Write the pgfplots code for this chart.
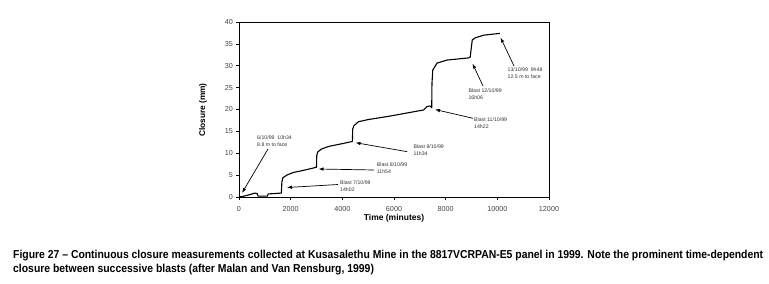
\documentclass[border=0pt]{standalone}
\usepackage{pgfplots}
\pgfplotsset{compat=1.18}
\usetikzlibrary{arrows.meta}
\usepackage{graphicx}
\usepackage{fontspec}
\setmainfont{Liberation Sans}
\definecolor{tickc}{HTML}{444444}
\definecolor{annc}{HTML}{333333}
\definecolor{capc}{HTML}{1A1A1A}
\newsavebox\capbox
\begin{document}
\sbox\capbox{\fontsize{11.5pt}{14pt}\selectfont\bfseries\vbox{\baselineskip=14pt\hbox{Figure 27 – Continuous closure measurements collected at Kusasalethu Mine in the 8817VCRPAN-E5 panel in 1999. Note the prominent time-dependent}\hbox{closure between successive blasts (after Malan and Van Rensburg, 1999)}}}%
\begin{tikzpicture}
\path[use as bounding box] (0pt,0pt) rectangle (769pt,-284pt);
\begin{axis}[
  at={(239pt,-197pt)}, anchor=south west,
  scale only axis, width=310pt, height=175pt,
  xmin=0, xmax=12000, ymin=0, ymax=40,
  xtick={0,2000,...,12000}, ytick={0,5,...,40},
  scaled x ticks=false,
  /pgf/number format/1000 sep={},
  /pgf/number format/assume math mode=true,
  tick align=outside, xtick pos=bottom, ytick pos=left,
  major tick length=3pt,
  tick style={black, line width=0.6pt},
  axis line style={black, line width=0.8pt},
  ticklabel style={font=\fontsize{7.2pt}{8pt}\selectfont, text=tickc},
  xticklabel style={inner sep=0pt, anchor=north, yshift=-6.5pt},
  yticklabel style={inner sep=0pt, anchor=east, xshift=-3pt},
]
\addplot[black, line width=1.1pt, line join=round] coordinates {
(0,0) (200,0.2) (450,0.6) (610,0.9) (700,0.8) (740,0.2) (1100,0.2) (1127,0.7)
(1400,0.8) (1640,0.9) (1660,3.5) (1700,4.4) (1850,5.0) (2100,5.6) (2500,6.1)
(3000,6.8) (3010,9.5) (3050,10.3) (3200,11.0) (3500,11.6) (4000,12.2) (4390,12.7)
(4400,15.5) (4450,16.3) (4620,17.2) (5000,17.7) (5850,18.5) (6500,19.2) (7150,19.9)
(7280,20.7) (7400,20.8) (7460,20.4) (7470,26) (7500,29.0) (7665,30.6) (8050,31.3)
(8900,31.8) (8950,32.0) (8990,34) (9030,35.9) (9150,36.4) (9480,37.0) (10100,37.4)
};
\end{axis}
% axis labels
\node[font=\fontsize{8.5pt}{10pt}\selectfont\bfseries] at (394pt,-218pt) {Time (minutes)};
\node[rotate=90, font=\fontsize{8.3pt}{10pt}\selectfont\bfseries] at (203pt,-110pt) {Closure (mm)};
% annotations
\tikzset{ann/.style={anchor=west, inner sep=0pt, align=left, text=annc, font=\fontsize{5.2pt}{7pt}\selectfont},
         arr/.style={black, line width=0.7pt, -{Latex[length=5pt,width=3.5pt]}}}
\draw[arr] (268pt,-149pt) -- (242pt,-193pt);
\node[ann] at (257pt,-140.8pt) {6/10/99\ \ 10h34\\8.8 m to face};
\draw[arr] (338pt,-184.5pt) -- (287pt,-187.5pt);
\node[ann] at (340pt,-185.7pt) {Blast 7/10/99\\14h02};
\draw[arr] (374pt,-170pt) -- (318.5pt,-169pt);
\node[ann] at (376.7pt,-168pt) {Blast 8/10/99\\11h54};
\draw[arr] (407.3pt,-151.7pt) -- (355.5pt,-142.7pt);
\node[ann] at (413.3pt,-149.9pt) {Blast 9/10/99\\11h34};
\draw[arr] (473pt,-118.3pt) -- (435pt,-109.5pt);
\node[ann] at (474pt,-123pt) {Blast 11/10/99\\14h22};
\draw[arr] (483pt,-86pt) -- (472.5pt,-63.5pt);
\node[ann] at (468.3pt,-94.2pt) {Blast 12/10/99\\16h06};
\draw[arr] (514pt,-66pt) -- (500.5pt,-37.5pt);
\node[ann] at (507.5pt,-73.3pt) {13/10/99\ \ 9h48\\12.5 m to face};
% caption
\node[anchor=base west, inner sep=0pt, text=capc] at (13pt,-272.7pt) {\resizebox{750pt}{\height}{\usebox\capbox}};
\end{tikzpicture}
\end{document}
